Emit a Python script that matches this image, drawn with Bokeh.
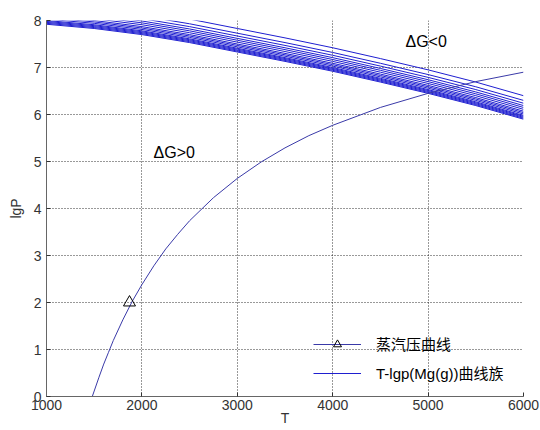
from bokeh.plotting import figure
from bokeh.models import Legend, LegendItem, Range1d, FixedTicker
from bokeh.embed import file_html
from bokeh.resources import INLINE
from bokeh.core.properties import value

# ---- data ----
T_family = [1000, 1500, 2000, 2500, 3000, 3500, 4000, 4500, 5000, 5500, 6000]
family_lgP = [
    [7.92, 7.83, 7.70, 7.53, 7.33, 7.13, 6.92, 6.69, 6.45, 6.19, 5.90],
    [7.94, 7.85, 7.72, 7.55, 7.35, 7.15, 6.94, 6.71, 6.47, 6.21, 5.92],
    [7.96, 7.87, 7.74, 7.57, 7.37, 7.17, 6.96, 6.73, 6.49, 6.23, 5.94],
    [7.98, 7.89, 7.76, 7.59, 7.39, 7.19, 6.98, 6.75, 6.51, 6.25, 5.96],
    [8.00, 7.91, 7.78, 7.61, 7.41, 7.21, 7.00, 6.77, 6.53, 6.27, 5.98],
    [8.03, 7.94, 7.81, 7.64, 7.44, 7.24, 7.03, 6.80, 6.56, 6.30, 6.01],
    [8.06, 7.97, 7.84, 7.67, 7.47, 7.27, 7.06, 6.83, 6.59, 6.33, 6.04],
    [8.09, 8.00, 7.87, 7.70, 7.50, 7.30, 7.09, 6.86, 6.62, 6.36, 6.07],
    [8.13, 8.04, 7.91, 7.74, 7.54, 7.34, 7.13, 6.90, 6.66, 6.40, 6.11],
    [8.17, 8.08, 7.95, 7.78, 7.58, 7.38, 7.17, 6.94, 6.70, 6.44, 6.15],
    [8.21, 8.12, 7.99, 7.82, 7.62, 7.42, 7.21, 6.98, 6.74, 6.48, 6.19],
    [8.26, 8.17, 8.04, 7.87, 7.67, 7.47, 7.26, 7.03, 6.79, 6.53, 6.24],
    [8.32, 8.23, 8.10, 7.93, 7.73, 7.53, 7.32, 7.09, 6.85, 6.59, 6.30],
    [8.42, 8.33, 8.20, 8.03, 7.83, 7.63, 7.42, 7.19, 6.95, 6.69, 6.40],
]

T_vapor = [1480, 1550, 1600, 1650, 1700, 1800, 1900, 2000, 2125, 2250,
           2375, 2500, 2750, 3000, 3250, 3500, 3750, 4000, 4500, 5000,
           5500, 6000]
lgP_vapor = [0.00, 0.41, 0.69, 0.94, 1.19, 1.63, 2.03, 2.38, 2.78, 3.14,
             3.45, 3.74, 4.23, 4.64, 4.99, 5.29, 5.55, 5.77, 6.15, 6.45,
             6.70, 6.90]

marker_T = [1870]
marker_lgP = [2.0]

x_ticks = [1000, 2000, 3000, 4000, 5000, 6000]
y_ticks = [0, 1, 2, 3, 4, 5, 6, 7, 8]

legend_labels = ["蒸汽压曲线", "T-lgp(Mg(g))曲线族"]
region_texts = ["ΔG<0", "ΔG>0"]
region_T = [4763, 2122]
region_lgP = [7.55, 5.19]

FONT = "Liberation Sans, Noto Sans CJK SC"

# ---- figure ----
p = figure(width=540, height=430, output_backend="svg", toolbar_location=None,
           x_range=Range1d(1000, 6000), y_range=Range1d(0, 8),
           min_border_left=46, min_border_right=17, min_border_top=20,
           min_border_bottom=34)
p.background_fill_color = "white"
p.border_fill_color = "white"
p.outline_line_color = None

fam = p.multi_line(xs=[T_family] * len(family_lgP), ys=family_lgP,
                   line_color="#1f1fd0", line_width=1)
vap = p.line(T_vapor, lgP_vapor, line_color="#3a3aa8", line_width=1)
mk = p.scatter(marker_T, marker_lgP, marker="triangle", size=12,
               fill_color=None, line_color="black", line_width=1)

p.text(x=region_T, y=region_lgP, text=region_texts,
       text_font=value("Liberation Sans"), text_font_size="16px",
       text_align="left", text_baseline="middle", text_color="black")

# axes
p.xaxis.ticker = FixedTicker(ticks=x_ticks)
p.yaxis.ticker = FixedTicker(ticks=y_ticks)
for ax in (p.xaxis, p.yaxis):
    ax.axis_line_color = "#666666"
    ax.major_tick_in = 4
    ax.major_tick_out = 0
    ax.major_tick_line_color = "#333333"
    ax.minor_tick_line_color = None
    ax.major_label_text_font = "Liberation Sans"
    ax.major_label_text_font_size = "14px"
    ax.major_label_text_color = "#333333"
    ax.axis_label_text_font = "Liberation Sans"
    ax.axis_label_text_font_size = "14px"
    ax.axis_label_text_font_style = "normal"
    ax.axis_label_text_color = "#333333"
p.xaxis.major_label_standoff = 3
p.yaxis.major_label_standoff = 5
p.yaxis.axis_label = "lgP"
p.yaxis.axis_label_standoff = 7
p.xaxis.axis_label = "T"
p.xaxis.axis_label_standoff = -3

p.grid.grid_line_color = "black"
p.grid.grid_line_alpha = 0.8
p.grid.grid_line_dash = "1 2"

legend = Legend(items=[LegendItem(label=legend_labels[0], renderers=[vap, mk]),
                       LegendItem(label=legend_labels[1], renderers=[fam])],
                location=(267, 13))
legend.glyph_width = 48
legend.glyph_height = 20
legend.label_height = 20
legend.spacing = 8
legend.padding = 0
legend.margin = 0
legend.label_standoff = 15
legend.label_text_font = FONT
legend.label_text_font_size = "15px"
legend.label_text_color = "black"
legend.border_line_alpha = 0
legend.background_fill_alpha = 0
p.add_layout(legend)

open("out.html", "w").write(file_html(p, INLINE))
